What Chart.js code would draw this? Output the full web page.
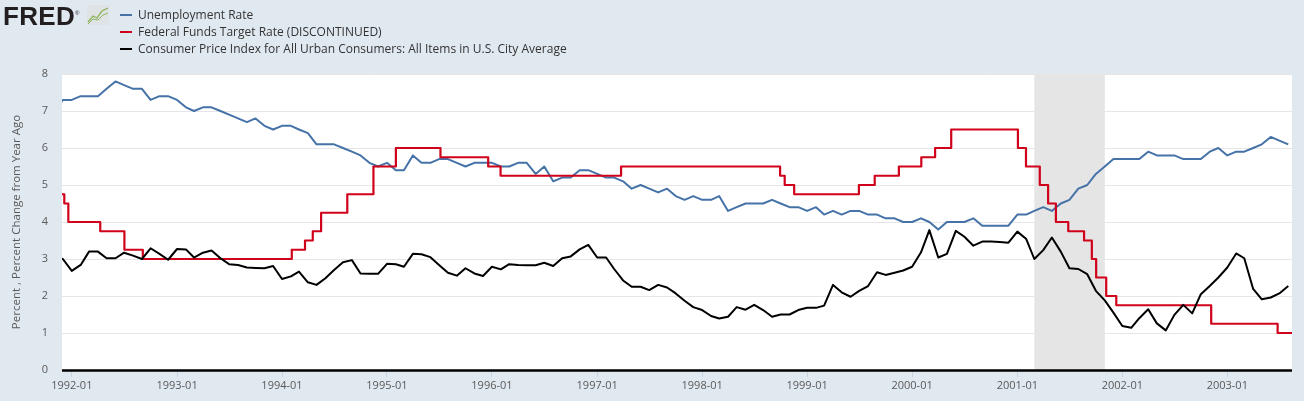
<!DOCTYPE html>
<html>
<head>
<meta charset="utf-8">
<script src="https://cdn.jsdelivr.net/npm/chart.js@4.4.1/dist/chart.umd.min.js"></script>
<style>
  body { margin: 0; background: #e1e9f0; font-family: 'Open Sans', sans-serif; }
  #wrap { position: relative; width: 1304px; height: 401px; overflow: hidden; }
  #fredChart { position: absolute; left: 0; top: 0; }
  #logo { position: absolute; left: 3px; top: 1px; font: bold 26px 'Liberation Sans', Arial, sans-serif; color: #231f20; letter-spacing: 0.3px; }
  #logo sup { font-size: 6px; font-weight: normal; letter-spacing: 0; }
  #logoIcon { position: absolute; left: 87px; top: 5px; }
  #legend { position: absolute; left: 120px; top: 6px; font-size: 12px; color: #333; }
  .item { height: 17px; line-height: 17px; white-space: nowrap; }
  .swatch { display: inline-block; width: 12px; height: 2px; vertical-align: middle; margin-right: 6px; position: relative; top: -1px; }
</style>
</head>
<body>
<div id="wrap">
  <canvas id="fredChart" width="1304" height="401"></canvas>
  <div id="logo">FRED<sup>®</sup></div>
  <svg id="logoIcon" width="22" height="20" viewBox="0 0 22 20">
    <rect x="0" y="0" width="22" height="20" fill="#dfe3e6"/>
    <polyline points="1,17 6,11 10,13 15,6 21,3" fill="none" stroke="#8cb55a" stroke-width="1.3"/>
    <polyline points="1,19 6,14 11,15 16,10 21,8" fill="none" stroke="#8cb55a" stroke-width="1"/>
  </svg>
  <div id="legend">
    <div class="item"><span class="swatch" style="background:#4572a7"></span>Unemployment Rate</div>
    <div class="item"><span class="swatch" style="background:#d0021b"></span>Federal Funds Target Rate (DISCONTINUED)</div>
    <div class="item"><span class="swatch" style="background:#000"></span>Consumer Price Index for All Urban Consumers: All Items in U.S. City Average</div>
  </div>
</div>
<script>
////////////// Data //////////////
// monthly series start at 1991-11 (one value per month)
const firstMonth = '1991-11';

const unemployment = [
  7.0, 7.3,
  7.3, 7.4, 7.4, 7.4, 7.6, 7.8, 7.7, 7.6, 7.6, 7.3, 7.4, 7.4,
  7.3, 7.1, 7.0, 7.1, 7.1, 7.0, 6.9, 6.8, 6.7, 6.8, 6.6, 6.5,
  6.6, 6.6, 6.5, 6.4, 6.1, 6.1, 6.1, 6.0, 5.9, 5.8, 5.6, 5.5,
  5.6, 5.4, 5.4, 5.8, 5.6, 5.6, 5.7, 5.7, 5.6, 5.5, 5.6, 5.6,
  5.6, 5.5, 5.5, 5.6, 5.6, 5.3, 5.5, 5.1, 5.2, 5.2, 5.4, 5.4,
  5.3, 5.2, 5.2, 5.1, 4.9, 5.0, 4.9, 4.8, 4.9, 4.7, 4.6, 4.7,
  4.6, 4.6, 4.7, 4.3, 4.4, 4.5, 4.5, 4.5, 4.6, 4.5, 4.4, 4.4,
  4.3, 4.4, 4.2, 4.3, 4.2, 4.3, 4.3, 4.2, 4.2, 4.1, 4.1, 4.0,
  4.0, 4.1, 4.0, 3.8, 4.0, 4.0, 4.0, 4.1, 3.9, 3.9, 3.9, 3.9,
  4.2, 4.2, 4.3, 4.4, 4.3, 4.5, 4.6, 4.9, 5.0, 5.3, 5.5, 5.7,
  5.7, 5.7, 5.7, 5.9, 5.8, 5.8, 5.8, 5.7, 5.7, 5.7, 5.9, 6.0,
  5.8, 5.9, 5.9, 6.0, 6.1, 6.3, 6.2, 6.1
];

const cpiChange = [
  3.05, 3.0,
  2.68, 2.84, 3.2, 3.2, 3.02, 3.02, 3.17, 3.09, 3.0, 3.29, 3.14, 2.98,
  3.27, 3.26, 3.04, 3.17, 3.23, 3.02, 2.86, 2.84, 2.77, 2.76, 2.75, 2.81,
  2.46, 2.53, 2.66, 2.37, 2.3, 2.48, 2.7, 2.91, 2.97, 2.61, 2.6, 2.6,
  2.87, 2.86, 2.79, 3.14, 3.13, 3.05, 2.84, 2.63, 2.55, 2.75, 2.61, 2.54,
  2.79, 2.72, 2.86, 2.84, 2.83, 2.83, 2.9, 2.81, 3.02, 3.07, 3.26, 3.38,
  3.04, 3.04, 2.73, 2.42, 2.25, 2.25, 2.16, 2.3, 2.23, 2.07, 1.87, 1.7,
  1.62, 1.46, 1.39, 1.44, 1.7, 1.63, 1.76, 1.62, 1.44, 1.5, 1.5, 1.62,
  1.68, 1.68, 1.74, 2.3, 2.1, 1.98, 2.14, 2.27, 2.64, 2.57, 2.63, 2.69,
  2.79, 3.18, 3.78, 3.04, 3.14, 3.76, 3.6, 3.36, 3.47, 3.47, 3.46, 3.44,
  3.74, 3.54, 3.0, 3.24, 3.58, 3.2, 2.75, 2.73, 2.59, 2.14, 1.88, 1.55,
  1.19, 1.14, 1.4, 1.64, 1.26, 1.07, 1.49, 1.76, 1.53, 2.05, 2.27, 2.5,
  2.77, 3.15, 3.02, 2.19, 1.91, 1.96, 2.07, 2.27
];

// target rate changes (date the new target took effect)
const fedDates = [
  '1991-11-06', '1991-12-06', '1991-12-20', '1992-04-09', '1992-07-02', '1992-09-04',
  '1994-02-04', '1994-03-22', '1994-04-18', '1994-05-17', '1994-08-16', '1994-11-15',
  '1995-02-01', '1995-07-06', '1995-12-19', '1996-01-31', '1997-03-25',
  '1998-09-29', '1998-10-15', '1998-11-17', '1999-06-30', '1999-08-24', '1999-11-16',
  '2000-02-02', '2000-03-21', '2000-05-16', '2001-01-03', '2001-01-31', '2001-03-20',
  '2001-04-18', '2001-05-15', '2001-06-27', '2001-08-21', '2001-09-17', '2001-10-02',
  '2001-11-06', '2001-12-11', '2002-11-06', '2003-06-25', '2003-08-14'
];
const fedRates = [
  4.75, 4.50, 4.00, 3.75, 3.25, 3.00,
  3.25, 3.50, 3.75, 4.25, 4.75, 5.50,
  6.00, 5.75, 5.50, 5.25, 5.50,
  5.25, 5.00, 4.75, 5.00, 5.25, 5.50,
  5.75, 6.00, 6.50, 6.00, 5.50, 5.00,
  4.50, 4.00, 3.75, 3.50, 3.00, 2.50,
  2.00, 1.75, 1.25, 1.00, 1.00
];

const tickLabels = ['1992-01', '1993-01', '1994-01', '1995-01', '1996-01', '1997-01',
  '1998-01', '1999-01', '2000-01', '2001-01', '2002-01', '2003-01'];

const recessionStart = '2001-03-01';
const recessionEnd = '2001-11-01';
const viewStart = '1991-11-28';
const viewEnd = '2003-08-14';
//////////////////////////////////

// days since 1992-01-01
function toDays(s) {
  const [y, m, d] = s.split('-').map(Number);
  return (Date.UTC(y, m - 1, d || 1) - Date.UTC(1992, 0, 1)) / 86400000;
}
function monthDay(i) {
  const [y, m] = firstMonth.split('-').map(Number);
  return (Date.UTC(y, m - 1 + i, 1) - Date.UTC(1992, 0, 1)) / 86400000;
}

const unratePts = unemployment.map((v, i) => ({ x: monthDay(i), y: v }));
const cpiPts = cpiChange.map((v, i) => ({ x: monthDay(i), y: v }));
const fedPts = fedDates.map((d, i) => ({ x: toDays(d), y: fedRates[i] }));

///////// white plot area, recession bar, zero line /////////
const plotBack = {
  id: 'plotBack',
  beforeDraw(chart) {
    const { ctx, chartArea: { left, top, width, height }, scales: { x } } = chart;
    ctx.save();
    ctx.fillStyle = '#ffffff';
    ctx.fillRect(left, top, width, height);
    const x1 = x.getPixelForValue(toDays(recessionStart));
    const x2 = x.getPixelForValue(toDays(recessionEnd));
    ctx.fillStyle = '#e5e5e5';
    ctx.fillRect(x1, top, x2 - x1, height);
    ctx.restore();
  },
  afterDraw(chart) {
    const { ctx, chartArea: { left, right, bottom } } = chart;
    ctx.save();
    ctx.beginPath();
    ctx.lineWidth = 2.5;
    ctx.strokeStyle = '#000000';
    ctx.moveTo(left, bottom + 0.5);
    ctx.lineTo(right, bottom + 0.5);
    ctx.stroke();
    ctx.restore();
  }
};

const axisFont = { family: "'Open Sans', sans-serif", size: 11 };

const config = {
  type: 'line',
  data: {
    datasets: [{
      label: 'Unemployment Rate',
      data: unratePts,
      borderColor: '#4572a7',
      borderWidth: 2,
      order: 2
    }, {
      label: 'Federal Funds Target Rate (DISCONTINUED)',
      data: fedPts,
      stepped: 'before',
      borderColor: '#d0021b',
      borderWidth: 2.2,
      order: 1
    }, {
      label: 'Consumer Price Index for All Urban Consumers: All Items in U.S. City Average',
      data: cpiPts,
      borderColor: '#000000',
      borderWidth: 2,
      order: 0
    }]
  },
  options: {
    responsive: false,
    animation: false,
    devicePixelRatio: 1,
    elements: { point: { radius: 0 }, line: { tension: 0, borderJoinStyle: 'round' } },
    layout: { padding: { top: 74, right: 12, left: 0, bottom: 0 } },
    plugins: { legend: { display: false }, tooltip: { enabled: false } },
    scales: {
      x: {
        type: 'linear',
        min: toDays(viewStart),
        max: toDays(viewEnd),
        afterFit(scale) { scale.height = 31; },
        afterBuildTicks(scale) {
          scale.ticks = tickLabels.map(t => ({ value: toDays(t + '-01') }));
        },
        ticks: {
          autoSkip: false,
          maxRotation: 0,
          padding: 2,
          color: '#595959',
          font: axisFont,
          callback: (value, index) => tickLabels[index]
        },
        grid: { drawOnChartArea: false, drawTicks: true, tickLength: 7, tickColor: '#c5d3e2' },
        border: { display: false }
      },
      y: {
        min: 0,
        max: 8,
        afterFit(scale) { scale.width = 62; },
        ticks: { stepSize: 1, padding: 14, color: '#595959', font: axisFont },
        grid: { color: '#e6e6e6', drawTicks: false },
        border: { display: false },
        title: {
          display: true,
          text: 'Percent , Percent Change from Year Ago',
          color: '#595959',
          font: { family: "'Open Sans', sans-serif", size: 11.5 },
          padding: { top: 10, bottom: 0 }
        }
      }
    }
  },
  plugins: [plotBack]
};

new Chart(document.getElementById('fredChart'), config);
</script>
</body>
</html>
